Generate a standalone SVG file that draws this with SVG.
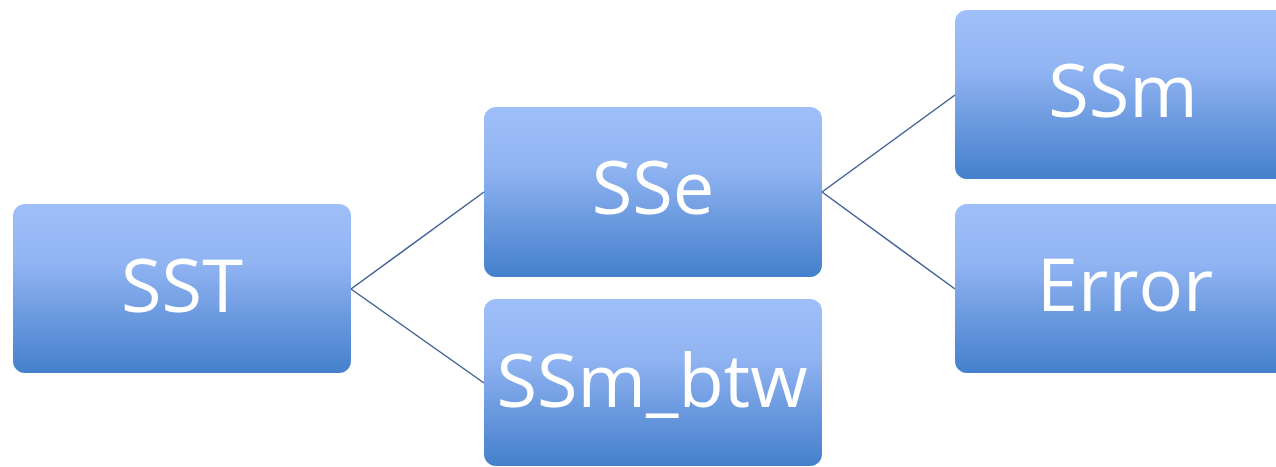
<svg xmlns="http://www.w3.org/2000/svg" width="1276" height="467" viewBox="0 0 1276 467">
<defs>
<linearGradient id="g" x1="0" y1="0" x2="0" y2="1">
<stop offset="0" stop-color="#9fbff9"/>
<stop offset="0.35" stop-color="#91b4f2"/>
<stop offset="0.65" stop-color="#6d9be0"/>
<stop offset="1" stop-color="#4480cc"/>
</linearGradient>
<style>
.box{fill:url(#g);}
.lbl{font-family:"Open Sans","Noto Sans",sans-serif;font-size:74px;fill:#ffffff;text-anchor:middle;}
.con{stroke:#3f5f92;stroke-width:1.5;fill:none;}
</style>
</defs>
<rect width="1276" height="467" fill="#ffffff"/>
<g id="connectors">
<line class="con" x1="351" y1="289" x2="484" y2="192"/>
<line class="con" x1="351" y1="289" x2="484" y2="383"/>
<line class="con" x1="822" y1="192" x2="955" y2="95"/>
<line class="con" x1="822" y1="192" x2="955" y2="289"/>
</g>
<g id="SST">
<rect class="box" x="13" y="204" width="338" height="169" rx="12"/>
<text class="lbl" x="182" y="312">SST</text>
</g>
<g id="SSe">
<rect class="box" x="484" y="107" width="338" height="170" rx="12"/>
<text class="lbl" x="653" y="214">SSe</text>
</g>
<g id="SSm_btw">
<rect class="box" x="484" y="299" width="338" height="167" rx="12"/>
<text class="lbl" x="652" y="407">SSm_btw</text>
</g>
<g id="SSm">
<rect class="box" x="955" y="10" width="338" height="169" rx="12"/>
<text class="lbl" x="1123" y="117">SSm</text>
</g>
<g id="Error">
<rect class="box" x="955" y="204" width="338" height="169" rx="12"/>
<text class="lbl" x="1125" y="311">Error</text>
</g>
</svg>
